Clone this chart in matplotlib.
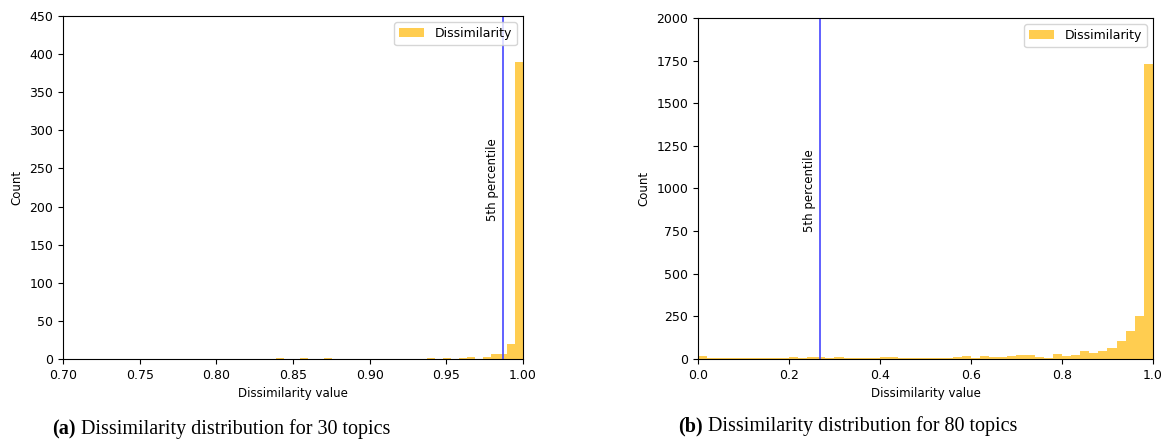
import numpy as np
import matplotlib
matplotlib.use('Agg')
import matplotlib.pyplot as plt

# left panel: 30 topics, bins of width 0.0052 from 0.74 to 1.0
left_edges = np.linspace(0.74, 1.0, 51)
left_counts = np.zeros(50)
left_nonzero = {19: 1, 22: 1, 25: 1, 38: 1, 40: 1, 42: 1, 43: 2, 45: 2,
                46: 6, 47: 6, 48: 20, 49: 389}
for k, v in left_nonzero.items():
    left_counts[k] = v
left_p5 = 0.987

# right panel: 80 topics, 50 bins on [0, 1]
right_edges = np.linspace(0.0, 1.0, 51)
right_counts = [15, 8, 4, 8, 8, 5, 8, 6, 5, 8,
                10, 8, 12, 12, 8, 12, 6, 8, 8, 6,
                12, 12, 8, 8, 8, 8, 8, 8, 10, 18,
                8, 18, 12, 12, 15, 25, 25, 12, 8, 28,
                15, 25, 45, 38, 48, 62, 105, 165, 255, 1730]
right_p5 = 0.268

bar_color = '#FFCD50'
line_color = '#4545FF'

fig = plt.figure(figsize=(11.65, 4.45), dpi=100)
ax1 = fig.add_axes([0.0541, 0.1933, 0.3948, 0.7708])
ax2 = fig.add_axes([0.5991, 0.1933, 0.3906, 0.7663])


def panel(ax, edges, counts, p5, xlim, ylim, text_y):
    centers = (edges[:-1] + edges[1:]) / 2
    ax.hist(centers, bins=edges, weights=counts, color=bar_color,
            label='Dissimilarity')
    ax.axvline(p5, color=line_color, lw=1.2)
    ax.annotate('5th percentile', xy=(p5, text_y), xytext=(-3, 0),
                textcoords='offset points', rotation=90, ha='right',
                va='center', fontsize=8.5)
    ax.set_xlim(*xlim)
    ax.set_ylim(*ylim)
    ax.set_xlabel('Dissimilarity value', fontsize=8.5)
    ax.set_ylabel('Count', fontsize=8.5)
    ax.tick_params(labelsize=9)
    ax.legend(loc='upper right', fontsize=9)


panel(ax1, left_edges, left_counts, left_p5, (0.7, 1.0), (0, 450), 235)
ax1.set_xticks(np.arange(0.70, 1.001, 0.05))
panel(ax2, right_edges, right_counts, right_p5, (0.0, 1.0), (0, 2000), 990)


def caption(x, y, tag, rest):
    t = fig.text(x, y, tag, fontsize=14.5, fontweight='bold',
                 family='Liberation Serif', va='center')
    fig.canvas.draw()
    plt.annotate(rest, xy=(1, 0), xycoords=t, xytext=(4, 0),
                 textcoords='offset points', fontsize=14.5,
                 family='Liberation Serif', va='bottom')


caption(52 / 1165, 1 - 429 / 445, '(a)', 'Dissimilarity distribution for 30 topics')
caption(678 / 1165, 1 - 426 / 445, '(b)', 'Dissimilarity distribution for 80 topics')

plt.savefig('out.png', dpi=100)
